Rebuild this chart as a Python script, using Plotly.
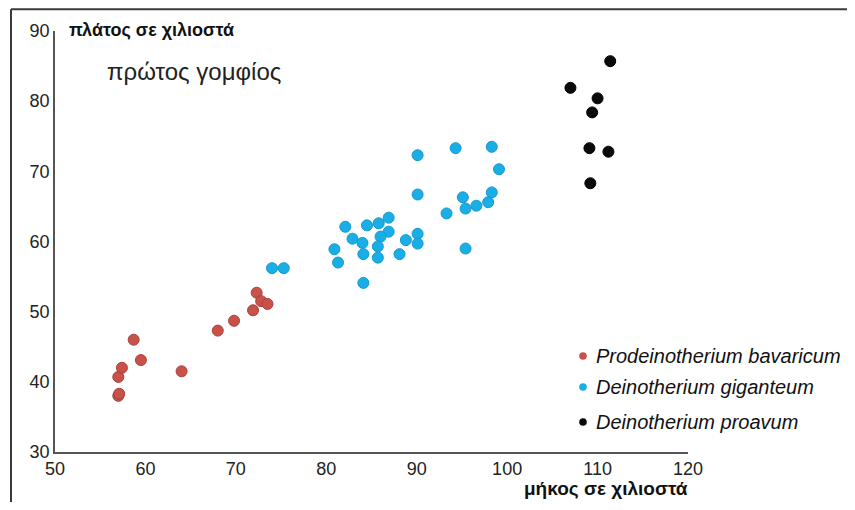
import plotly.graph_objects as go

# ---- data ----
bav_x = [57.0, 57.1, 57.0, 57.4, 58.7, 59.5, 64.0, 68.0, 69.8, 71.9, 72.3, 72.8, 73.5]
bav_y = [38.0, 38.3, 40.7, 42.0, 46.0, 43.1, 41.5, 47.3, 48.7, 50.2, 52.7, 51.5, 51.1]

gig_x = [90.1, 94.3, 98.3, 99.1, 90.1, 95.1, 98.3, 97.9, 96.6, 95.4, 93.3, 95.4,
         90.1, 90.1, 88.8, 88.1, 86.9, 85.8, 84.5, 82.1, 86.9, 86.0, 85.7, 85.7,
         82.9, 84.0, 84.1, 80.9, 81.3, 84.1, 74.0, 75.3]
gig_y = [72.3, 73.3, 73.5, 70.3, 66.7, 66.3, 67.0, 65.6, 65.1, 64.7, 64.0, 59.0,
         61.1, 59.7, 60.2, 58.2, 63.4, 62.6, 62.3, 62.1, 61.4, 60.7, 59.3, 57.7,
         60.4, 59.8, 58.2, 58.9, 57.0, 54.1, 56.2, 56.2]

pro_x = [111.4, 107.0, 110.0, 109.4, 109.1, 111.2, 109.2]
pro_y = [85.7, 81.9, 80.4, 78.4, 73.3, 72.8, 68.3]

species = ["Prodeinotherium bavaricum", "Deinotherium giganteum", "Deinotherium proavum"]
colors = ["#c8524a", "#1aaee6", "#0a0a0a"]
rims = ["#a8413b", "#1399cf", "#000000"]

x_ticks = [50, 60, 70, 80, 90, 100, 110, 120]
y_ticks = [30, 40, 50, 60, 70, 80, 90]

y_title = "πλάτος σε χιλιοστά"
x_title = "μήκος σε χιλιοστά"
subtitle = "πρώτος γομφίος"

FONT = "Liberation Sans, Arial, sans-serif"

# plot area in page pixels: x 55..688, y 31..452 (page has an 8px body margin)
PL, PR, PT, PB = 55, 688, 31, 452
PW, PH = PR - PL, PB - PT


def px(xp):
    return (xp - PL) / PW


def py(yp):
    return (PB - yp) / PH


fig = go.Figure()
for xs, ys, name, c, r in zip([bav_x, gig_x, pro_x], [bav_y, gig_y, pro_y], species, colors, rims):
    fig.add_trace(go.Scatter(
        x=xs, y=ys, mode="markers", name=name, showlegend=False,
        marker=dict(size=11, color=c, line=dict(width=1, color=r)),
    ))

W, H = 847, 494
fig.update_layout(
    width=W, height=H,
    margin=dict(l=PL - 8, r=W - (PR - 8), t=PT - 8, b=H - (PB - 8)),
    paper_bgcolor="white", plot_bgcolor="white",
    font=dict(family=FONT, size=18, color="#222222"),
    xaxis=dict(range=[50, 120], tickvals=x_ticks, showgrid=False, zeroline=False,
               showline=True, linecolor="#555555", linewidth=1.5, ticks="",
               tickfont=dict(size=18, color="#222222"), fixedrange=True),
    yaxis=dict(range=[30, 90], tickvals=y_ticks, showgrid=False, zeroline=False,
               showline=True, linecolor="#555555", linewidth=1.5, ticks="",
               tickfont=dict(size=18, color="#222222"), fixedrange=True),
    showlegend=False,
)

fig.add_annotation(text="<b>" + y_title + "</b>", xref="paper", yref="paper",
                   x=px(67), y=py(30), xanchor="left", yanchor="middle",
                   showarrow=False, font=dict(size=18, color="#111111"))
fig.add_annotation(text=subtitle, xref="paper", yref="paper",
                   x=px(105), y=py(72), xanchor="left", yanchor="middle",
                   showarrow=False, font=dict(size=24, color="#222222"))
fig.add_annotation(text="<b>" + x_title + "</b>", xref="paper", yref="paper",
                   x=px(690), y=py(488), xanchor="right", yanchor="middle",
                   showarrow=False, font=dict(size=19, color="#111111"))

# legend (drawn manually to match spacing of the reference)
leg_y = [356, 387, 422]
for name, c, ly in zip(species, colors, leg_y):
    r = 3.8
    fig.add_shape(type="circle", xref="paper", yref="paper",
                  x0=px(583 - r), x1=px(583 + r), y0=py(ly + r), y1=py(ly - r),
                  fillcolor=c, line=dict(width=0))
    fig.add_annotation(text="<i>" + name + "</i>", xref="paper", yref="paper",
                       x=px(594), y=py(ly), xanchor="left", yanchor="middle",
                       showarrow=False, font=dict(size=20, color="#111111"))

# frame lines (top and left) as in the reference screenshot
fig.add_shape(type="line", xref="paper", yref="paper",
              x0=px(11), x1=px(855), y0=py(9.3), y1=py(9.3),
              line=dict(color="#3a3a3a", width=2))
fig.add_shape(type="line", xref="paper", yref="paper",
              x0=px(11), x1=px(11), y0=py(9.3), y1=py(502),
              line=dict(color="#3a3a3a", width=2))

fig.write_html("out.html")
